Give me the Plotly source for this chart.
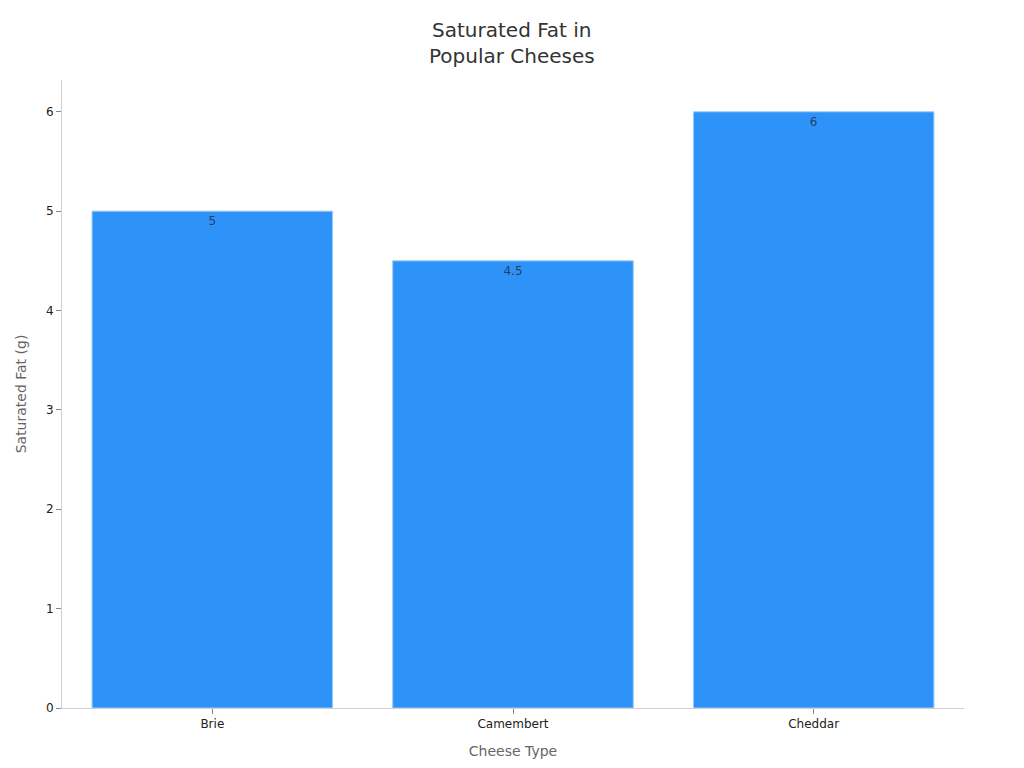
import plotly.graph_objects as go

cheeses = ["Brie", "Camembert", "Cheddar"]
sat_fat = [5, 4.5, 6]
labels = ["5", "4.5", "6"]

fig = go.Figure(go.Bar(
    x=cheeses, y=sat_fat, text=labels,
    textposition="inside", insidetextanchor="end",
    textfont=dict(family="DejaVu Sans", size=12, color="#2a3f5f"),
    marker=dict(color="#2E93F8", line=dict(color="#9ccaf7", width=1)),
    hoverinfo="skip",
))

fig.update_layout(
    width=1024, height=768,
    paper_bgcolor="white", plot_bgcolor="white",
    margin=dict(l=51, r=68, t=72, b=68),
    bargap=0.2,
    font=dict(family="DejaVu Sans", size=12, color="#222222"),
    title=dict(text="Saturated Fat in<br>Popular Cheeses", x=0.492, xanchor="center",
               y=0.962, yanchor="top",
               font=dict(family="DejaVu Sans", size=20, color="#333333")),
    showlegend=False,
)
fig.update_xaxes(
    title=dict(text="Cheese Type", font=dict(size=14, color="#666666"), standoff=15),
    showline=True, linecolor="#d0d0d0", linewidth=1,
    ticks="outside", tickcolor="#888888", ticklen=5,
    showgrid=False,
)
fig.update_yaxes(
    title=dict(text="Saturated Fat (g)", font=dict(size=14, color="#666666"), standoff=16),
    range=[0, 6.32], dtick=1,
    showline=True, linecolor="#d0d0d0", linewidth=1,
    ticks="outside", tickcolor="#888888", ticklen=5,
    showgrid=False, zeroline=False,
)

fig.write_html("out.html")
